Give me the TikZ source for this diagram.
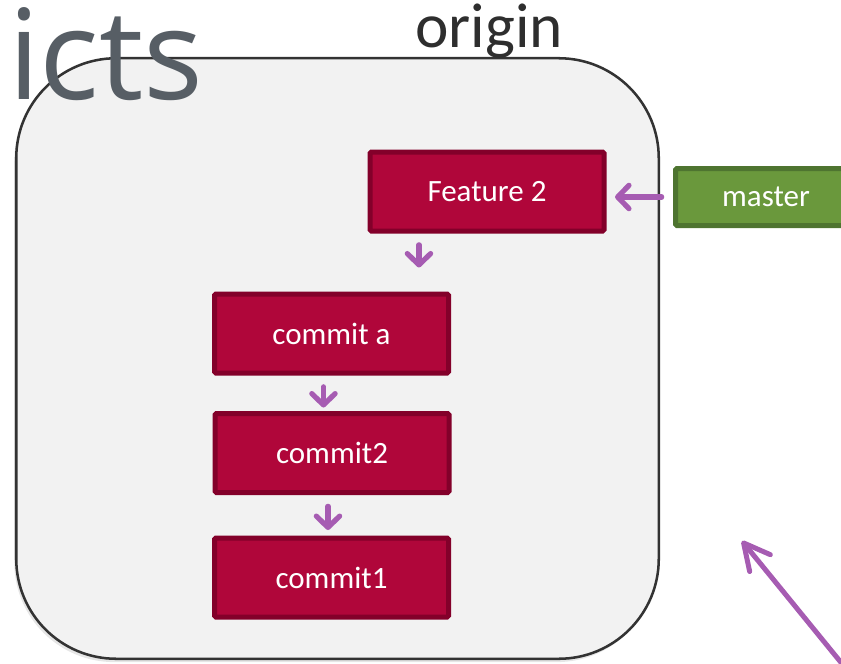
\documentclass[tikz,border=0pt]{standalone}
\usepackage{fontspec}
\setmainfont{Carlito}
\newfontfamily\ictsfont{Open Sans}
\usetikzlibrary{arrows.meta,shadows}
\definecolor{panelfill}{HTML}{F2F2F2}
\definecolor{paneldraw}{HTML}{333333}
\definecolor{commitfill}{HTML}{B0063A}
\definecolor{commitdraw}{HTML}{83002A}
\definecolor{masterfill}{HTML}{6A983C}
\definecolor{masterdraw}{HTML}{4E7430}
\definecolor{arrowpurple}{HTML}{A65CB2}
\definecolor{ictsgray}{HTML}{575E65}
\definecolor{origingray}{HTML}{2E2E2E}
\begin{document}
\begin{tikzpicture}[x=0.75pt,y=-0.75pt,
  commitbox/.style={draw=commitdraw, fill=commitfill, line width=3.75pt,
    minimum width=175.5pt, minimum height=59.25pt, inner sep=0pt,
    rounded corners=1.1pt, text=white, font=\fontsize{23.25}{28}\selectfont},
  masterbox/.style={draw=masterdraw, fill=masterfill, line width=3.75pt,
    minimum width=135.75pt, minimum height=42.75pt, inner sep=0pt,
    rounded corners=1.1pt, text=white, font=\fontsize{23.25}{28}\selectfont},
  panel/.style={draw=paneldraw, fill=panelfill, line width=1.9pt,
    rounded corners=75pt, minimum width=481.9pt, minimum height=450.4pt,
    drop shadow={shadow xshift=-1.5pt, shadow yshift=-2.5pt, opacity=0.2}},
  gitarrow/.style={draw=arrowpurple, line width=3.9pt, line cap=round,
    -{Straight Barb[round, length=8.5pt, width=17.5pt]}},
  bigarrow/.style={draw=arrowpurple, line width=3.75pt, line cap=round,
    -{Straight Barb[round, length=19.5pt, width=20pt]}}
]
\useasboundingbox (0,0) rectangle (841,663);

\node[panel] (originbox) at (337.5,358.5) {};
\node[anchor=base west, inner sep=0pt, text=origingray,
  font=\fontsize{47.5}{52}\selectfont] (originlabel) at (415,48) {origin};
\node[anchor=base west, inner sep=0pt, text=ictsgray,
  font=\ictsfont\fontsize{94}{100}\selectfont] (icts) at (8,100) {icts};

\node[commitbox] (f2) at (487,191.5) {Feature 2};
\node[commitbox] (ca) at (331.5,333.5) {commit a};
\node[commitbox] (c2) at (332,453) {commit2};
\node[commitbox] (c1) at (331.5,577.5) {commit1};
\node[masterbox] (master) at (766,197) {master};

\draw[gitarrow, shorten <=8.5pt, shorten >=6.4pt]
  (master.west) -- (master.west -| f2.east);
\draw[gitarrow, shorten <=8.5pt, shorten >=18pt]
  ([xshift=38.6pt]f2.south west) -- ([xshift=38.6pt]f2.south west |- ca.north);
\draw[gitarrow, shorten <=8.5pt, shorten >=2.6pt]
  ([xshift=83.6pt]ca.south west) -- ([xshift=83.6pt]ca.south west |- c2.north);
\draw[gitarrow, shorten <=8.5pt, shorten >=4.1pt]
  ([xshift=86.6pt]c2.south west) -- ([xshift=86.6pt]c2.south west |- c1.north);

\coordinate (tailend) at (852,676);
\coordinate (tiphere) at (742,541);
\draw[bigarrow] (tailend) -- (tiphere);
\end{tikzpicture}
\end{document}
